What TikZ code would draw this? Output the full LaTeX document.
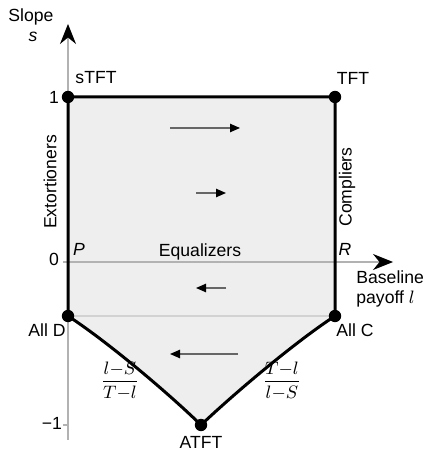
\documentclass[tikz,border=0pt]{standalone}
\usepackage{fontspec}
\setmainfont{Liberation Sans}
\usetikzlibrary{arrows.meta}

\tikzset{
  dot/.style={circle, fill=black, inner sep=0pt, minimum size=6.2pt},
  axis/.style={gray!60, line width=0.7pt},
  rim/.style={black, line width=1.5pt, line join=round},
  flow/.style={gray!80!black, line width=0.6pt, -{Triangle[length=5pt, width=4.2pt, black]}},
}

\begin{document}
\begin{tikzpicture}[x=0.5pt, y=-0.5pt, font=\fontsize{8.8}{10}\selectfont]
  \useasboundingbox (0,0) rectangle (426,453);

  % corners of the region
  \coordinate (sTFT) at (68,97);
  \coordinate (TFT) at (335,97);
  \coordinate (allC) at (335,316);
  \coordinate (allD) at (68,316);
  \coordinate (aTFT) at (201,425);

  % shaded region
  \fill[gray!13] (allD) -- (sTFT) -- (TFT) -- (allC)
    .. controls (298,340) and (238,390) .. (aTFT)
    .. controls (165,390) and (105,340) .. (allD) -- cycle;
  \draw[gray!35, line width=0.6pt] (allD) -- (allC);

  % axes
  \draw[axis, -{Stealth[length=10pt, width=8pt, black]}] (68,440) -- (68,24);
  \draw[axis, -{Stealth[length=10pt, width=8pt, black]}] (63,262) -- (393,262);
  \draw[axis] (63,425) -- (68,425);

  % border
  \draw[rim] (allD) -- (sTFT) -- (TFT) -- (allC)
    .. controls (298,340) and (238,390) .. (aTFT)
    .. controls (165,390) and (105,340) .. (allD);
  \foreach \c in {sTFT,TFT,allC,allD,aTFT}
    \node[dot] (\c-dot) at (\c) {};

  % flow
  \draw[flow] (170,128) -- (240,128);
  \draw[flow] (196,193) -- (226,193);
  \draw[flow] (226,288) -- (196,288);
  \draw[flow] (238,354) -- (170,354);

  % labels
  \node (slope) at (31,17) {Slope};
  \node (s-lbl) at (33,37) {\textit{s}};
  \node (sTFT-lbl) at (96,78) {sTFT};
  \node (TFT-lbl) at (353,78) {TFT};
  \node (one) at (54,97) {1};
  \node (zero) at (54,259) {0};
  \node (mone) at (52,423) {−1};
  \node[rotate=90] (ext) at (50,182) {Extortioners};
  \node[rotate=90] (comp) at (347,187) {Compliers};
  \node (P) at (79,249) {\textit{P}};
  \node (R) at (345,249) {\textit{R}};
  \node (equ) at (200,252) {Equalizers};
  \node[anchor=west, align=left, inner sep=0pt] (base) at (356,289) {Baseline\\payoff $l$};
  \node (allD-lbl) at (47,330) {All D};
  \node (allC-lbl) at (355,330) {All C};
  \node (aTFT-lbl) at (201,442) {ATFT};
  \node (fracL) at (120,381) {$\displaystyle\frac{l{-}S}{T{-}l}$};
  \node (fracR) at (282,381) {$\displaystyle\frac{T{-}l}{l{-}S}$};
\end{tikzpicture}
\end{document}
